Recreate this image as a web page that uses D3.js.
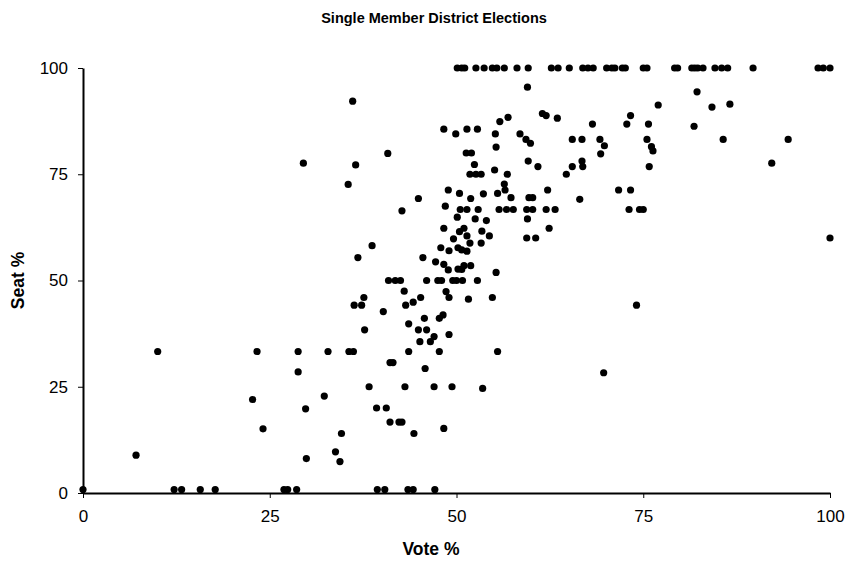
<!DOCTYPE html>
<html>
<head>
<meta charset="utf-8">
<script src="https://cdn.jsdelivr.net/npm/d3@7"></script>
<style>
  body { margin: 0; background: #fff; }
  svg { display: block; font-family: "Liberation Sans", Arial, sans-serif; }
</style>
</head>
<body>
<div id="chart"></div>
<script>
const chartTitle = "Single Member District Elections";
const xLabel = "Vote %";
const yLabel = "Seat %";
const xTicks = [0, 25, 50, 75, 100];
const yTicks = [0, 25, 50, 75, 100];

// Districts with all seats won (Seat % = 100)
const fullVote = [50.1, 50.7, 51.1, 52.6, 53.7, 54.8, 55.4, 56.4, 58.1, 59.6, 62.7, 63.6, 65.1, 66.9, 67.6, 68.3, 70.1, 70.8, 71.2, 72.2, 72.6, 75.0, 75.5, 79.2, 79.6, 81.5, 81.9, 82.3, 83.0, 84.6, 85.5, 86.3, 89.7, 98.4, 99.1, 100];
// Districts with no seats won (plotted at Seat % ≈ 1)
const zeroVote = [0, 12.2, 13.2, 15.7, 17.7, 26.9, 27.4, 28.6, 39.4, 40.4, 43.5, 44.2, 47.1];

// Remaining districts: vote share and seat share
const voteShare = [
  10, 23.3, 28.8, 32.8, 28.8, 22.7, 32.3, 29.8, 24.1, 7.1, 29.9, 29.5,
  36.1, 48.3, 49.9, 40.8, 36.5, 35.5, 48.9, 50.4, 44.9,
  48.5, 42.7, 50.1, 48.3, 49.6, 38.7, 47.9, 49.0, 50.2, 36.8, 45.5, 47.2, 48.3, 48.9, 50.2,
  40.9, 41.8, 42.5, 46.0, 47.5, 48.0, 49.5, 50.0, 43.0, 48.6, 49.0, 37.6, 36.3, 37.3, 45.2,
  44.2, 43.2, 40.2, 48.2, 47.7, 45.7, 43.6, 37.7, 44.9, 46.0, 47.0, 49.0,
  45.1, 46.5, 35.6, 36.2, 43.6, 47.7, 41.1, 41.5, 45.8, 38.3, 43.1, 47.0, 49.4,
  39.3, 40.6, 41.1, 42.3, 42.7, 44.3, 48.3, 34.6, 33.8, 34.4,
  59.5, 61.5, 62.0, 63.5, 56.9, 55.8, 51.4, 52.8, 55.2, 58.5, 59.3, 59.9, 65.5, 66.8,
  55.3, 51.3, 52.0, 52.4, 59.6, 60.9, 65.5, 66.8, 66.9, 64.7, 55.1, 56.8, 51.8, 52.6, 53.3,
  56.4, 56.5, 53.6, 55.5, 57.3, 59.7, 60.2, 62.2, 51.9,
  50.5, 51.4, 52.9, 55.7, 56.7, 57.6, 59.4, 60.2, 62.0, 63.2, 59.5, 52.5, 54.0, 62.4,
  51.0, 53.4, 50.4, 51.4, 54.4, 59.4, 60.6, 51.8, 53.3, 50.7, 51.4, 51.0, 51.9, 50.7,
  55.3, 50.8, 52.8, 51.6, 54.8, 55.5, 53.5,
  82.2, 77.0, 84.2, 73.3, 72.8, 68.2, 75.7, 81.8, 69.2, 69.8, 69.3, 75.5, 76.1, 76.3,
  75.8, 71.7, 73.3, 73.1, 74.5, 75.0, 66.5, 74.1, 69.7,
  86.6, 85.7, 94.4, 92.2, 100
];
const seatShare = [
  33.3, 33.3, 33.3, 33.3, 28.5, 22.0, 22.8, 19.8, 15.1, 8.9, 8.1, 77.6,
  92.2, 85.6, 84.5, 79.9, 77.2, 72.6, 71.3, 70.5, 69.3,
  67.5, 66.4, 64.9, 62.3, 59.8, 58.2, 57.7, 57.0, 57.7, 55.4, 55.4, 54.4, 53.8, 52.5, 52.7,
  50, 50, 50, 50, 50, 50, 50, 50, 47.5, 47.4, 46.0, 46.0, 44.2, 44.2, 46.0,
  44.9, 44.2, 42.7, 41.9, 41.1, 41.1, 39.8, 38.4, 38.4, 38.4, 36.8, 37.3,
  35.6, 35.6, 33.3, 33.3, 33.3, 33.3, 30.7, 30.7, 29.3, 25, 25, 25, 25,
  20, 20, 16.7, 16.7, 16.7, 14.0, 15.2, 14.0, 9.7, 7.4,
  95.5, 89.3, 88.8, 88.2, 88.4, 87.4, 85.6, 85.6, 84.5, 84.5, 83.2, 82.3, 83.2, 83.2,
  81.4, 80, 80, 77.3, 78.1, 76.8, 76.8, 78.1, 76.8, 75, 76.0, 75, 75, 75, 75,
  72.7, 71.3, 70.4, 70.5, 69.5, 69.5, 69.5, 71.3, 69.3,
  66.7, 66.7, 66.7, 66.7, 66.7, 66.7, 66.7, 66.7, 66.7, 66.7, 64.5, 64.5, 64.1, 62.3,
  62.3, 61.6, 61.5, 60.5, 60.5, 60, 60, 58.8, 58.8, 57.2, 56.9, 53.5, 53.5, 52.6,
  51.9, 50, 50, 45.6, 46.0, 33.3, 24.6,
  94.4, 91.3, 90.8, 88.8, 86.8, 86.8, 86.8, 86.3, 83.2, 81.7, 79.8, 83.2, 81.5, 80.5,
  76.8, 71.3, 71.3, 66.7, 66.7, 66.7, 69.1, 44.2, 28.3,
  91.5, 83.2, 83.2, 77.6, 60
];

const points = [];
fullVote.forEach(v => points.push([v, 100]));
zeroVote.forEach(v => points.push([v, 0.8]));
voteShare.forEach((v, i) => points.push([v, seatShare[i]]));

const W = 849, H = 561;
const margin = { left: 83, right: 19, top: 68, bottom: 68 };

const svg = d3.select("#chart").append("svg")
  .attr("width", W).attr("height", H);

const x = d3.scaleLinear().domain([0, 100]).range([margin.left, W - margin.right]);
const y = d3.scaleLinear().domain([0, 100]).range([H - margin.bottom, margin.top]);

// Points
svg.append("g").selectAll("circle").data(points).join("circle")
  .attr("cx", d => x(d[0]))
  .attr("cy", d => y(d[1]))
  .attr("r", 3.6)
  .attr("fill", "#000");

// Axes
const xAxis = svg.append("g")
  .attr("transform", `translate(0,${H - margin.bottom})`)
  .call(d3.axisBottom(x).tickValues(xTicks).tickSize(5).tickSizeOuter(0).tickPadding(12));
const yAxis = svg.append("g")
  .attr("transform", `translate(${margin.left},0)`)
  .call(d3.axisLeft(y).tickValues(yTicks).tickSize(5).tickSizeOuter(0).tickPadding(10));

[xAxis, yAxis].forEach(a => {
  a.select(".domain").attr("stroke", "#000").attr("stroke-width", 2);
  a.selectAll(".tick line").attr("stroke", "#000").attr("stroke-width", 1);
  a.selectAll(".tick text")
    .attr("fill", "#000")
    .style("font-family", "'Liberation Sans', Arial, sans-serif")
    .style("font-size", "17px");
});

// Title
svg.append("text")
  .attr("x", 434).attr("y", 23)
  .attr("text-anchor", "middle")
  .style("font-size", "14.5px")
  .style("font-weight", "bold")
  .text(chartTitle);

// Axis titles
svg.append("text")
  .attr("x", 431).attr("y", 555)
  .attr("text-anchor", "middle")
  .style("font-size", "17.5px")
  .style("font-weight", "bold")
  .text(xLabel);

svg.append("text")
  .attr("transform", `translate(24,${(margin.top + H - margin.bottom) / 2}) rotate(-90)`)
  .attr("text-anchor", "middle")
  .style("font-size", "17.5px")
  .style("font-weight", "bold")
  .text(yLabel);
</script>
</body>
</html>
